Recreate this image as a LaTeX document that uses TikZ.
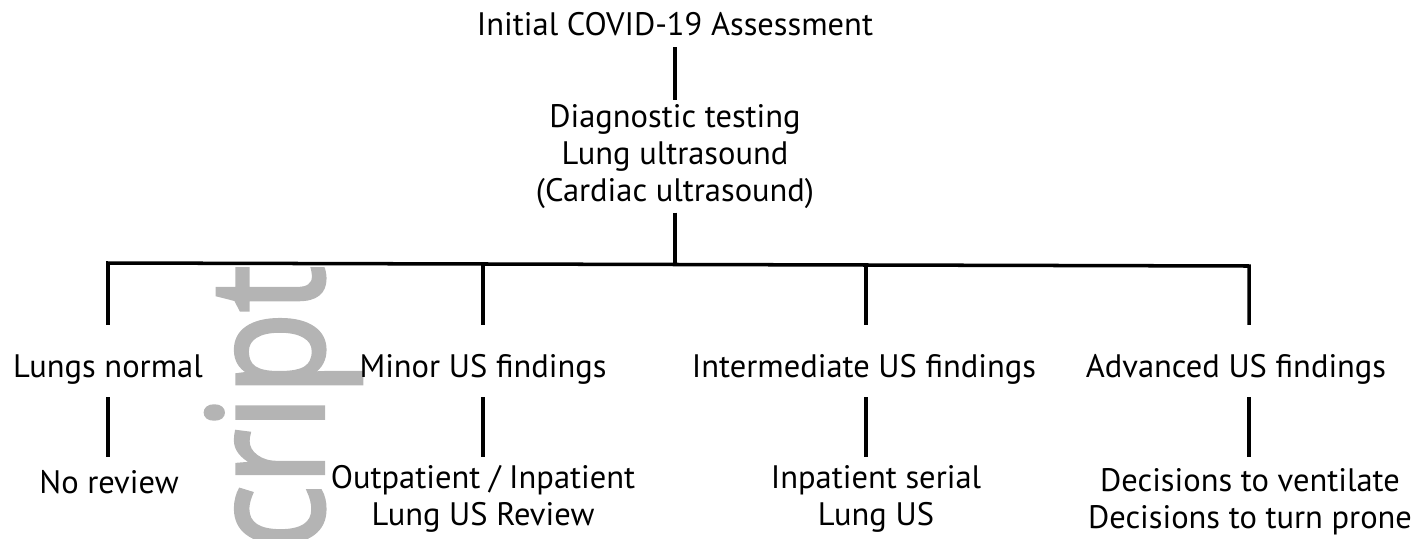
\documentclass[tikz,border=0pt]{standalone}
\usepackage{fontspec}
\setmainfont{PT Sans}
\newfontface\wmfont{Open Sans}[FakeBold=2.5]
\definecolor{wmgray}{RGB}{180,180,180}

\begin{document}
\begin{tikzpicture}[x=0.02cm, y=-0.02cm,
    every node/.style={font=\fontsize{18.5}{21}\selectfont, align=center, inner xsep=0pt},
    link/.style={line width=2pt, line join=miter},
    lvltwo/.style={anchor=base, inner ysep=0pt, text height=29.5pt, text depth=11.3pt},
    lvlthree/.style={anchor=north, inner ysep=4.5pt}]
  \useasboundingbox (0,0) rectangle (1419,538);

  % watermark
  \begin{scope}
    \clip (0,267) rectangle (1419,538);
    \node[rotate=90, xscale=0.85, anchor=base west, text=wmgray, font=\wmfont\fontsize{91}{91}\selectfont] (mark) at (323,615) {script};
  \end{scope}

  % top
  \node[anchor=base, inner ysep=0pt, text depth=6.8pt] (assess) at (675,35) {Initial COVID-19 Assessment};
  \node[anchor=north, inner ysep=2.3pt] (diag) at (675,100) {Diagnostic testing\\Lung ultrasound\\(Cardiac ultrasound)};
  \coordinate (hub) at (675,264.5);
  \draw[link] (assess) -- (diag);
  \draw[link] (diag) -- (hub);

  % findings
  \coordinate (c1) at (108,263);
  \coordinate (c2) at (483,264);
  \coordinate (c3) at (866,265);
  \coordinate (c4) at (1249,266);
  \node[lvltwo] (normal) at (108,377) {Lungs normal};
  \node[lvltwo] (minor) at (483,377) {Minor US findings};
  \node[lvltwo] (inter) at (864,377) {Intermediate US findings};
  \node[lvltwo] (advanced) at (1236,377) {Advanced US findings};
  \draw[link] (c1 |- normal.north) -- (c1) -- (c4) -- (c4 |- advanced.north);
  \draw[link] (c2) -- (c2 |- minor.north);
  \draw[link] (c3) -- (c3 |- inter.north);

  % follow-up
  \node[anchor=base, inner ysep=0pt, text height=20.4pt] (noreview) at (109,493) {No review};
  \node[lvlthree] (review) at (483,457) {Outpatient / Inpatient\\Lung US Review};
  \node[lvlthree] (serial) at (876,457) {Inpatient serial\\Lung US};
  \node[lvlthree, inner ysep=6.5pt] (decide) at (1250,457) {Decisions to ventilate\\Decisions to turn prone};
  \draw[link] (normal.south -| c1) -- (noreview.north -| c1);
  \draw[link] (minor.south -| c2) -- (review.north -| c2);
  \draw[link] (inter.south -| c3) -- (serial.north -| c3);
  \draw[link] (advanced.south -| c4) -- (decide.north -| c4);
\end{tikzpicture}
\end{document}
